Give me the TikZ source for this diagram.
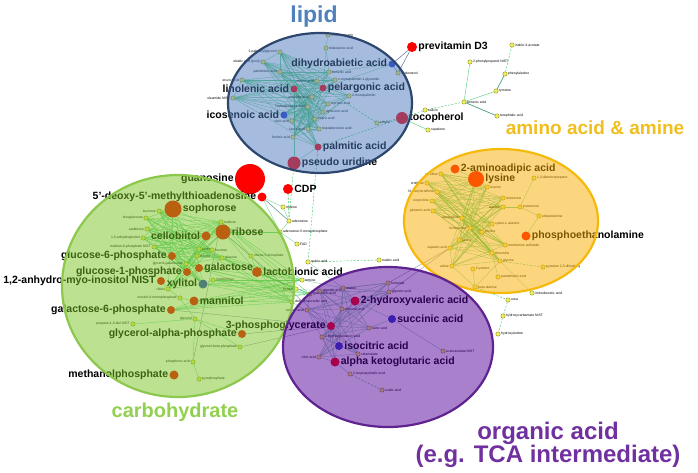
\documentclass[tikz,border=0pt]{standalone}
\usepackage{fontspec}
\setmainfont{Liberation Sans}
\pgfdeclarelayer{background}
\pgfdeclarelayer{foreground}
\pgfsetlayers{background,main,foreground}
\definecolor{lipfill}{RGB}{75,121,189}
\definecolor{lipline}{RGB}{45,70,110}
\definecolor{amfill}{RGB}{249,172,0}
\definecolor{amline}{RGB}{245,185,10}
\definecolor{carbfill}{RGB}{119,195,35}
\definecolor{carbline}{RGB}{140,200,75}
\definecolor{orgfill}{RGB}{81,1,153}
\definecolor{orgline}{RGB}{95,35,145}
\definecolor{liptitle}{RGB}{79,129,189}
\definecolor{amtitle}{RGB}{240,190,30}
\definecolor{carbtitle}{RGB}{146,208,80}
\definecolor{orgtitle}{RGB}{112,48,160}
\definecolor{ynode}{RGB}{238,238,95}
\definecolor{ynodeb}{RGB}{150,150,40}
\definecolor{rnode}{RGB}{255,0,0}
\definecolor{bnode}{RGB}{40,60,200}
\definecolor{egreen}{RGB}{60,200,100}
\definecolor{eblue}{RGB}{70,90,150}
\definecolor{egrey}{RGB}{100,115,150}
\definecolor{eteal}{RGB}{130,200,170}
\begin{document}
\begin{tikzpicture}[x=1pt,y=-1pt,
  sm/.style={circle,inner sep=0pt,minimum size=4.4pt,fill=ynode,draw=ynodeb,line width=0.4pt},
  tl/.style={font=\fontsize{3.4}{4}\selectfont,inner sep=0.6pt},
  bn/.style={circle,inner sep=0pt,draw=none},
  bl/.style={font=\bfseries\fontsize{10.5}{12}\selectfont,inner sep=1pt},
  eg/.style={draw=egreen,line width=0.35pt,opacity=0.75},
  eb/.style={draw=eblue,line width=0.5pt,opacity=0.85},
  eo/.style={draw=egrey,line width=0.35pt,opacity=0.8},
  et/.style={draw=eteal,line width=0.4pt,opacity=0.9},
  ed/.style={draw=egreen,line width=0.45pt,dashed,dash pattern=on 2pt off 1.5pt},
  title/.style={font=\bfseries\fontsize{#1}{#1}\selectfont,inner sep=0pt}]
\useasboundingbox (0,0) rectangle (698,472);

% ---------- small nodes ----------
\foreach \n/\x/\y/\t/\s in {
  l1/328/35/{1-monostearin}/right, l2/326/48/{tridecanoic acid}/right,
  l3/280/52/{2-palmitoylglycerol}/left, l4/263/62/{elaidic acid (pool)}/left,
  l5/280/72/{palmitoleic acid}/left, l6/242/80/{erucic acid}/left,
  l7/233/98/{oleamide NIST}/left, l8/329/72/{behenic acid}/right,
  l9/335/80/{1-monopalmitin-1-glyceride}/right, l10/317/81/{stearic acid}/left,
  l11/312/97/{arachidic acid}/left, l12/349/96/{2-monopalmitin}/right,
  l13/308/107/{heptadecanoic acid}/left, l14/328/104/{myristic acid}/right,
  l15/292/121/{oleic acid}/left, l16/323/112/{lignoceric acid}/right,
  l17/315/119/{capric acid}/right, l18/308/129/{lauric acid}/left,
  l19/293/137/{linoleic acid}/left, l20/319/129/{heptadecenoic acid}/right,
  l21/377/123/{ethylol}/right, chol/398/73/{cholesterol}/right,
  ind/512/45/{indole-3-acetate}/right, ppn/470/62/{2-phenylpropanol NIST}/right,
  phe/505/74/{phenylalanine}/right, tyr/496/91/{tyrosine}/right,
  bza/464/102/{benzoic acid}/right, tpa/497/116/{terephtalic acid}/right,
  sal/425/110/{salicin}/right, sqa/428/130/{squalene}/right,
  cit/441/174/{citrulline}/left, orn/427/183/{ornithine}/left,
  nac/437/192/{N-acetylornithine}/left, oxo/432/201/{oxoproline}/left,
  glu/433/211/{glutamic acid}/left, leu/487/187/{leucine}/right,
  ile/503/198/{isoleucine}/right, hub/503/207/{alanine}/left,
  put/520/207/{putrescine}/right, dap/534/178/{1,3-diaminopropane}/right,
  eth/539/216/{ethanolamine}/right, asn/462/218/{asparagine}/left,
  cya/492/224/{cyano-L-alanine}/right, hse/470/228/{homoserine}/left,
  pro/482/232/{proline}/right, ser/459/240/{serine}/right,
  asp/450/248/{aspartic acid}/left, mso/505/245/{methionine sulfoxide}/right,
  thr/492/253/{threonine}/right, gly/500/261/{glycine}/right,
  val/452/266/{valine}/left, cys/473/269/{Cysteine}/right,
  pan/498/277/{pantothenic acid}/right, bal/475/287/{beta alanine}/right,
  pyz/543/267/{pyrazine 2,5-dihydroxy}/right, imi/532/293/{iminodiacetic acid}/right,
  urea/508/300/{urea}/right, hcb/503/316/{hydroxycarbamate NIST}/right,
  hyl/498/334/{hydroxylamine}/right,
  lcr/159/211/{leucrose}/left, lev/146/218/{levoglucosan}/left,
  arb/147/229/{arabinose}/left, anh/143/238/{1,5-anhydroglucitol}/left,
  m6p/154/247/{maltose-6-phosphate NIST}/left, gg/186/264/{glycerol-galactoside}/left,
  thre/197/256/{threitol}/right, mal/221/222/{maltose}/right,
  sor/199/249/{sorbitol}/right, fru/212/250/{fructose}/right,
  glc/222/258/{glucose}/right, x5p/251/256/{ribose-5-phosphate}/right,
  ino/213/280/{inositol myo}/right, rbt/168/289/{ribitol}/left,
  i4p/180/298/{inositol-4-monophosphate}/left, glyc/195/319/{glycerol}/left,
  pdi/133/324/{propane-1,3-diol NIST}/left, gbp/240/347/{glycerol-beta-phosphate}/left,
  pho/193/362/{phosphoric acid}/left, pyp/199/379/{pyrophosphate}/right,
  inos/283/207/{inosine}/right, ade/289/221/{adenosine}/right,
  amp/280/232/{adenosine-5-monophosphate}/right, fad/297/244/{FAD}/right,
  qui/308/262/{quinic acid}/right, mle/379/260/{maleic acid}/right,
  g1/302/280/{tetrose}/right, g2/296/289/{fucose}/left,
  g3/310/294/{galactonic acid}/right, g4/292/302/{dehydroascorbic acid}/right,
  fum/388/283/{fumarate}/right, glya/389/292/{glyceric acid}/right,
  mala/343/288/{malate}/right, o1/320/291/{glycolic acid}/right,
  thra/342/309/{threonic acid}/right, lact/369/328/{lactic acid}/right,
  o2/307/310/{tartaric acid}/left, hb/322/337/{2-hydroxybutanoic acid}/right,
  cim/358/354/{citramalate}/right, cita/319/357/{citric acid}/left,
  ipm/350/374/{2-isopropylmalic acid}/right, oxa/382/390/{oxalic acid}/right,
  aca/443/351/{acetoacetate NIST}/right}
  \node[sm,label={[tl]\s:\t}] (\n) at (\x,\y) {};

% ---------- big nodes ----------
\foreach \n/\x/\y/\c/\d/\t/\s in {
  dih/392/64/bnode/7/{dihydroabietic acid}/left,
  lin/294/89/rnode/7/{linolenic acid}/left,
  pel/323/88/rnode/7/{pelargonic acid}/right,
  ico/284/115/bnode/7/{icosenoic acid}/left,
  pal/318/147/rnode/7/{palmitic acid}/right,
  pu/294/163/rnode/13/{pseudo uridine}/right,
  toc/402/118/rnode/12/{tocopherol}/right,
  pre/412/47/rnode/10/{previtamin D3}/right,
  guan/250/179/rnode/30/{guanosine}/left,
  mta/262/197/rnode/9/{5'-deoxy-5'-methylthioadenosine}/left,
  cdp/288/189/rnode/10/{CDP}/right,
  sop/173/209/rnode/17/{sophorose}/right,
  cel/206/236/rnode/9/{cellobiitol}/left,
  rib/223/232/rnode/15/{ribose}/right,
  g6p/172/256/rnode/8/{glucose-6-phosphate}/left,
  g1p/187/272/rnode/8/{glucose-1-phosphate}/left,
  galc/199/268/rnode/8/{galactose}/right,
  lac/257/272/rnode/10/{lactobionic acid}/right,
  anmi/161/281/rnode/8/{1,2-anhydro-myo-inositol NIST}/left,
  xyl/203/284/bnode/9/{xylitol}/left,
  man/194/301/rnode/9/{mannitol}/right,
  g6pg/171/310/rnode/8/{galactose-6-phosphate}/left,
  gap/242/334/rnode/8/{glycerol-alpha-phosphate}/left,
  meth/174/375/rnode/9/{methanolphosphate}/left,
  pg3/331/326/rnode/8/{3-phosphoglycerate}/left,
  hva/355/301/rnode/9/{2-hydroxyvaleric acid}/right,
  suc/392/319/bnode/8/{succinic acid}/right,
  ici/339/346/bnode/8/{isocitric acid}/right,
  akg/335/362/rnode/9/{alpha ketoglutaric acid}/right,
  aad/455/169/rnode/9/{2-aminoadipic acid}/right,
  lys/476/179/rnode/16/{lysine}/right,
  pea/526/236/rnode/9/{phosphoethanolamine}/right}
  \node[bn,fill=\c,minimum size=\d pt,label={[bl]\s:\t}] (\n) at (\x,\y) {};

% ---------- connectors ----------
\begin{pgfonlayer}{background}
% lipid mesh
\foreach \a in {lin,ico,l3,l4,l5,l6,l7,l15,l19,l18}
  \foreach \b in {pel,l8,l10,l11,l12,l13,l14,l16,l17,l20,pal,l9}
    \draw[eg] (\a) -- (\b);
\foreach \a/\b in {l1/l2,l2/l8,l2/pel,l3/l5,l4/l5,l3/l4,l6/l7,dih/l8,dih/pel,pal/pu,lin/pu}
  \draw[eg] (\a) -- (\b);
\foreach \a/\b in {pre/chol,pre/dih,dih/chol,tyr/phe,bza/tpa}
  \draw[eb] (\a) -- (\b);
\foreach \a/\b in {bza/ppn,bza/tyr,toc/sqa,phe/tyr,tpa/bza}
  \draw[eg,opacity=1] (\a) -- (\b);
\foreach \a/\b in {l21/pel,l21/toc,toc/sal,sal/bza,phe/ind,pu/ade,pal/qui,toc/pal,cdp/ade}
  \draw[ed] (\a) -- (\b);
% carbohydrate mesh
\foreach \a in {lcr,lev,arb,anh,m6p,g6p,gg,thre,rbt}
  \foreach \b in {sop,cel,rib,mal,sor,fru,glc,g1p,galc,xyl}
    \draw[eg] (\a) -- (\b);
\foreach \a/\b in {gg/g1p,i4p/man,i4p/glyc,glyc/gap,glyc/pho,pho/pyp,gbp/glyc,pdi/glyc,
  g6pg/man,x5p/rib,x5p/lac,rib/lac,amp/rib,sop/rib,cel/rib,mta/inos,mta/ade,mta/amp,
  guan/mta,amp/ade,amp/fad,inos/ade,ino/xyl,rbt/i4p,anmi/rbt}
  \draw[eg] (\a) -- (\b);
\foreach \a in {man,xyl,ino,galc,glc,sor,mal,g6pg,lac}
  \foreach \b in {g1,g2,g3,g4}
    \draw[eg] (\a) -- (\b);
\foreach \a/\b in {rib/pg3,g6pg/pg3,gap/pg3,gbp/pg3,pho/mal,mta/ade}
  \draw[eo] (\a) -- (\b);
% amino mesh
\foreach \a in {cit,orn,nac,oxo,glu,asn,hse,ser,asp,val}
  \foreach \b in {hub,ile,leu,lys,cya,thr,gly,pro,mso}
    \draw[eg] (\a) -- (\b);
\foreach \a/\b in {lys/aad,lys/cit,lys/leu,hub/put,put/dap,put/eth,eth/pea,gly/imi,
  bal/cys,bal/val,pan/thr,bal/gly,asp/ser,asp/val}
  \draw[eg] (\a) -- (\b);
\foreach \a/\b in {gly/pyz,urea/hcb,hcb/hyl,bal/urea,mle/qui}
  \draw[ed] (\a) -- (\b);
\foreach \a/\b in {asp/fum,asp/glya}
  \draw[eo] (\a) -- (\b);
% organic mesh
\foreach \a in {o1,o2,pg3,cita,hb,mala}
  \foreach \b in {hva,thra,fum,glya,ici,akg,lact,cim}
    \draw[et] (\a) -- (\b);
\foreach \a/\b in {suc/aca,suc/lact,suc/hva,akg/ipm,hva/glya,g1/mala,g2/o1,g3/o2,g4/pg3,
  qui/mala,cim/ici,fum/glya}
  \draw[et] (\a) -- (\b);
\draw[ed] (ipm) -- (oxa);
\end{pgfonlayer}

% ---------- class ellipses ----------
\begin{pgfonlayer}{foreground}
\draw[line width=2.2pt,draw=lipline,fill=lipfill,fill opacity=0.5] (320,103) ellipse [x radius=92,y radius=70];
\draw[line width=2.2pt,draw=amline,fill=amfill,fill opacity=0.5] (501,221) ellipse [x radius=97,y radius=72];
\draw[line width=2.2pt,draw=carbline,fill=carbfill,fill opacity=0.5] (178,286) ellipse [x radius=116,y radius=111];
\draw[line width=2.2pt,draw=orgline,fill=orgfill,fill opacity=0.5] (388,347) ellipse [x radius=105,y radius=80];
\node[title=23,text=liptitle] (tlip) at (314,17) {lipid};
\node[title=19,text=amtitle] (tam) at (595,128) {amino acid \& amine};
\node[title=20,text=carbtitle] (tcarb) at (175,412) {carbohydrate};
\node[title=24,text=orgtitle] (torg1) at (548,433) {organic acid};
\node[title=24,text=orgtitle] (torg2) at (548,456) {(e.g. TCA intermediate)};
\end{pgfonlayer}
\end{tikzpicture}
\end{document}
